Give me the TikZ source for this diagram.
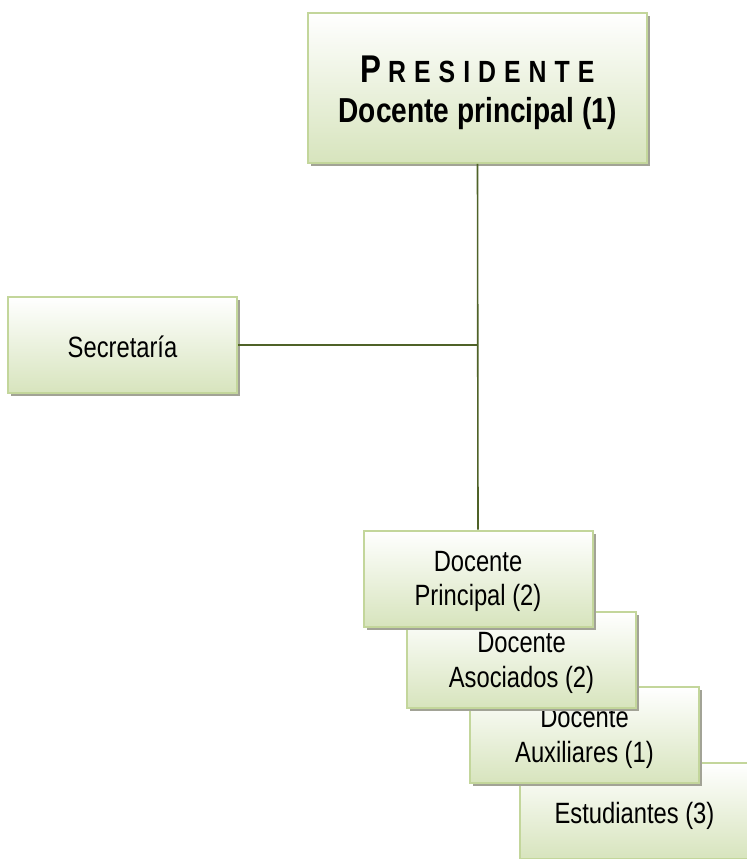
\documentclass[tikz,border=0pt]{standalone}
\usepackage{fontspec}
\setmainfont{Liberation Sans}[FakeStretch=0.81]
\usepackage{xcolor}
\usepackage{tikz}
\usetikzlibrary{shadows}
\definecolor{VerdeBorde}{HTML}{C3D69B}
\definecolor{VerdeFondo}{HTML}{D7E4BD}
\definecolor{VerdeLinea}{HTML}{4F6228}
\definecolor{GrisSombra}{HTML}{A2A396}

\begin{document}
\begin{tikzpicture}[x = .75pt, y = -.75pt,
    cargo/.style = {draw = VerdeBorde, line width = 1.5pt,
      top color = white, bottom color = VerdeFondo,
      drop shadow = {shadow xshift = 2.5pt, shadow yshift = -2.5pt,
        fill = GrisSombra, opacity = 1},
      minimum width = 171.75pt, minimum height = 72pt, inner sep = 0pt,
      text height = 20pt, text depth = 2pt,
      align = center, font = \fontsize{22}{26}\selectfont},
    doslineas/.style = {text height = 43pt},
    enlace/.style = {line width = 1.2pt, draw = VerdeLinea}]
  \useasboundingbox (0,0) rectangle (746,859);

  % de abajo hacia arriba: cada caja tapa a la de abajo
  \node[cargo] (estudiantes) at (634.5,811) {Estudiantes (3)};
  \node[cargo, doslineas] (auxiliares) at (584.5,735) {Docente\\ Auxiliares (1)};
  \node[cargo, doslineas] (asociados) at (521.5,660) {Docente\\ Asociados (2)};
  \node[cargo, doslineas] (principal) at (478,578.5) {Docente\\ Principal (2)};

  \node[cargo] (secretaria) at (122.5,345) {Secretaría};

  \node[cargo, minimum width = 254.25pt, minimum height = 112.5pt,
    text height = 55pt, text depth = 2.5pt,
    font = \fontsize{26}{30}\selectfont\bfseries] (presidente) at (477.5,88)
    {{\fontsize{29}{30}\selectfont P}\kern5pt{\fontsize{23}{30}\selectfont
      R\kern6pt E\kern6pt S\kern6pt I\kern6pt D\kern6pt E\kern6pt N\kern6pt
      T\kern6pt E}\\ Docente principal (1)};

  \coordinate (cruce) at (presidente.south |- secretaria.east);
  \draw[enlace] (presidente.south) -- (principal.north);
  \draw[enlace] (secretaria.east) -- (cruce);

\end{tikzpicture}
\end{document}
